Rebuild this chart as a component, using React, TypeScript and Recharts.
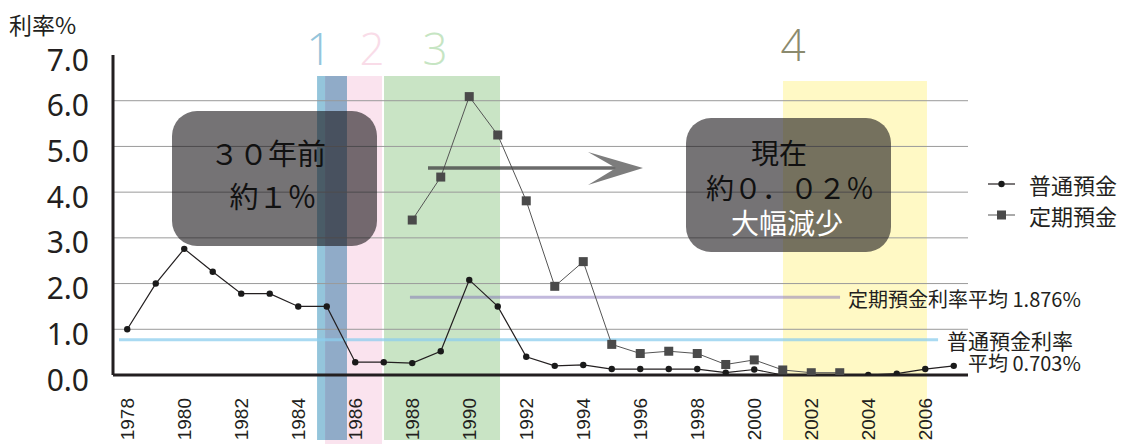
import React from 'react';
import { LineChart, Line, XAxis, YAxis, ReferenceArea, ReferenceLine } from 'recharts';

// ---- data ----
const years = [
  1978, 1979, 1980, 1981, 1982, 1983, 1984, 1985, 1986, 1987,
  1988, 1989, 1990, 1991, 1992, 1993, 1994, 1995, 1996, 1997,
  1998, 1999, 2000, 2001, 2002, 2003, 2004, 2005, 2006, 2007,
];
const futsuuRates = [
  1.0, 2.0, 2.76, 2.26, 1.78, 1.78, 1.5, 1.5, 0.28, 0.28,
  0.26, 0.52, 2.08, 1.5, 0.4, 0.2, 0.22, 0.13, 0.13, 0.13,
  0.13, 0.05, 0.12, 0.0, 0.0, 0.0, 0.0, 0.03, 0.13, 0.2,
];
const teikiRates: (number | null)[] = [
  null, null, null, null, null, null, null, null, null, null,
  3.39, 4.33, 6.09, 5.25, 3.81, 1.94, 2.48, 0.67, 0.47, 0.52,
  0.47, 0.23, 0.33, 0.11, 0.05, 0.05, null, null, null, null,
];
const xTicks = [1978, 1980, 1982, 1984, 1986, 1988, 1990, 1992, 1994, 1996, 1998, 2000, 2002, 2004, 2006];
const yTicks = [0, 1, 2, 3, 4, 5, 6, 7];
const gridValues = [1, 2, 3, 4, 5, 6];
const teikiAvgDrawn = 1.7;
const futsuuAvgDrawn = 0.77;
const seriesNames = ['普通預金', '定期預金'];
const teikiAvgLabel = '定期預金利率平均 1.876%';
const futsuuAvgLabel1 = '普通預金利率';
const futsuuAvgLabel2 = '平均 0.703%';
const bandNumbers = ['1', '2', '3', '4'];

const data = years.map((year, i) => ({ year, futsuu: futsuuRates[i], teiki: teikiRates[i] }));

const INK = '#231f20';
const CJK = "'Noto Sans CJK JP', 'Noto Sans', sans-serif";

const XTick = (props: any) => {
  const { x, y, payload } = props;
  return (
    <text
      x={x}
      y={y}
      transform={`rotate(-90 ${x} ${y})`}
      textAnchor="end"
      dominantBaseline="central"
      fontFamily="'Liberation Sans', Arial, sans-serif"
      fontSize={19}
      fill={INK}
    >
      {payload.value}
    </text>
  );
};

const YTick = (props: any) => {
  const { x, y, payload } = props;
  return (
    <text
      x={x}
      y={y + 4}
      textAnchor="end"
      dominantBaseline="central"
      fontFamily="'Noto Sans', sans-serif"
      fontSize={30}
      fill={INK}
    >
      {Number(payload.value).toFixed(1)}
    </text>
  );
};

const SquareDot = (props: any) => {
  const { cx, cy, index } = props;
  if (cx == null || cy == null || props.value == null || (Array.isArray(props.value) && props.value[1] == null)) {
    return <g key={`sq-${index}`} />;
  }
  return <rect key={`sq-${index}`} x={cx - 4.5} y={cy - 4.5} width={9} height={9} fill="#4a4a4a" />;
};

const Overlay = () => (
  <svg
    width={1126}
    height={444}
    style={{ position: 'absolute', left: 0, top: 0, pointerEvents: 'none' }}
  >
    {/* axis unit */}
    <text x={9} y={24} dominantBaseline="central" fontFamily={CJK} fontSize={23} fill={INK}>利率%</text>

    {/* band numbers */}
    <g fontFamily="'Open Sans', 'Noto Sans', sans-serif" fontWeight={300} fontSize={44} textAnchor="middle">
      <text x={319} y={65} fill="#94c5db">{bandNumbers[0]}</text>
      <text x={372} y={65} fill="#f9dce8">{bandNumbers[1]}</text>
      <text x={435} y={65} fill="#c6e5c3">{bandNumbers[2]}</text>
      <text x={793} y={61} fill="#8b8a6e">{bandNumbers[3]}</text>
    </g>

    {/* left annotation box */}
    <rect x={172} y={111} width={205} height={135} rx={25} ry={25} fill="rgba(25,22,25,0.6)" />
    <text x={268} y={152} textAnchor="middle" dominantBaseline="central" fontFamily={CJK} fontSize={29} fill="#111">３０年前</text>
    <text x={273} y={195} textAnchor="middle" dominantBaseline="central" fontFamily={CJK} fontSize={29} fill="#111">約１％</text>

    {/* right annotation box */}
    <rect x={686} y={118} width={205} height={134} rx={25} ry={25} fill="rgba(25,22,25,0.6)" />
    <text x={779} y={152} textAnchor="middle" dominantBaseline="central" fontFamily={CJK} fontSize={28} fill="#111">現在</text>
    <text x={790} y={187} textAnchor="middle" dominantBaseline="central" fontFamily={CJK} fontSize={28} fill="#111">約０．０２％</text>
    <text x={787} y={222} textAnchor="middle" dominantBaseline="central" fontFamily={CJK} fontSize={28} fill="#fff">大幅減少</text>

    {/* arrow */}
    <line x1={428} y1={168} x2={625} y2={168} stroke="rgba(70,70,70,0.8)" strokeWidth={3.5} />
    <polygon points="588,152 643,168 588,185 616,168" fill="#7d7d7d" />

    {/* average labels */}
    <text x={848} y={298} dominantBaseline="central" fontFamily={CJK} fontSize={20} fill={INK}>{teikiAvgLabel}</text>
    <text x={947} y={340} dominantBaseline="central" fontFamily={CJK} fontSize={21} fill={INK}>{futsuuAvgLabel1}</text>
    <text x={968} y={362} dominantBaseline="central" fontFamily={CJK} fontSize={20} fill={INK}>{futsuuAvgLabel2}</text>

    {/* legend */}
    <line x1={988} y1={184} x2={1015} y2={184} stroke={INK} strokeWidth={1.2} />
    <circle cx={1001.5} cy={184} r={3.2} fill="#1a1a1a" />
    <text x={1029} y={184} dominantBaseline="central" fontFamily={CJK} fontSize={22} fill={INK}>{seriesNames[0]}</text>
    <line x1={988} y1={215} x2={1015} y2={215} stroke="#555" strokeWidth={1} />
    <rect x={997} y={210.5} width={9} height={9} fill="#4a4a4a" />
    <text x={1029} y={215} dominantBaseline="central" fontFamily={CJK} fontSize={22} fill={INK}>{seriesNames[1]}</text>
  </svg>
);

export default function App() {
  return (
    <div style={{ position: 'absolute', left: 0, top: 0, width: 1126, height: 444, background: '#fff' }}>
      <LineChart
        width={1126}
        height={444}
        data={data}
        margin={{ top: 55, right: 158, bottom: 0, left: 0 }}
      >
        <XAxis
          dataKey="year"
          type="number"
          domain={[1977.5, 2007.5]}
          ticks={xTicks}
          interval={0}
          allowDataOverflow
          tickLine={false}
          tickMargin={17}
          height={69}
          axisLine={{ stroke: INK, strokeWidth: 3 }}
          tick={<XTick />}
        />
        <YAxis
          type="number"
          domain={[0, 7]}
          ticks={yTicks}
          interval={0}
          allowDataOverflow
          width={113}
          tickLine={false}
          tickMargin={18}
          axisLine={{ stroke: INK, strokeWidth: 3 }}
          tick={<YTick />}
        />

        {/* highlighted periods */}
        <ReferenceArea x1={1984.94} x2={1986.94} y1={-1.7} y2={6.54} fill="#fae3ee" fillOpacity={1} stroke="none" ifOverflow="visible" />
        <ReferenceArea x1={1984.66} x2={1984.94} y1={-1.42} y2={6.54} fill="#94c5db" fillOpacity={1} stroke="none" ifOverflow="visible" />
        <ReferenceArea x1={1984.94} x2={1985.71} y1={-1.42} y2={6.54} fill="#90abc8" fillOpacity={1} stroke="none" ifOverflow="visible" />
        <ReferenceArea x1={1987.01} x2={1991.08} y1={-1.42} y2={6.54} fill="#c9e4c5" fillOpacity={1} stroke="none" ifOverflow="visible" />
        <ReferenceArea x1={2001.01} x2={2006.06} y1={-1.42} y2={6.43} fill="#fff9c5" fillOpacity={1} stroke="none" ifOverflow="visible" />

        {/* grid */}
        {gridValues.map((v) => (
          <ReferenceLine key={`g${v}`} y={v} stroke="#9a9a9a" strokeWidth={1} />
        ))}

        {/* averages */}
        <ReferenceLine
          segment={[{ x: 1987.92, y: teikiAvgDrawn }, { x: 2003.01, y: teikiAvgDrawn }]}
          stroke="rgba(120,100,180,0.45)"
          strokeWidth={3}
        />
        <ReferenceLine
          segment={[{ x: 1977.71, y: futsuuAvgDrawn }, { x: 2006.45, y: futsuuAvgDrawn }]}
          stroke="rgba(140,205,238,0.75)"
          strokeWidth={3}
        />

        <Line
          dataKey="futsuu"
          name={seriesNames[0]}
          stroke={INK}
          strokeWidth={1.2}
          dot={{ r: 3.2, fill: '#1a1a1a', stroke: 'none' }}
          activeDot={false}
          isAnimationActive={false}
        />
        <Line
          dataKey="teiki"
          name={seriesNames[1]}
          stroke="#555"
          strokeWidth={1}
          dot={SquareDot}
          activeDot={false}
          connectNulls={false}
          isAnimationActive={false}
        />
      </LineChart>
      <Overlay />
    </div>
  );
}
